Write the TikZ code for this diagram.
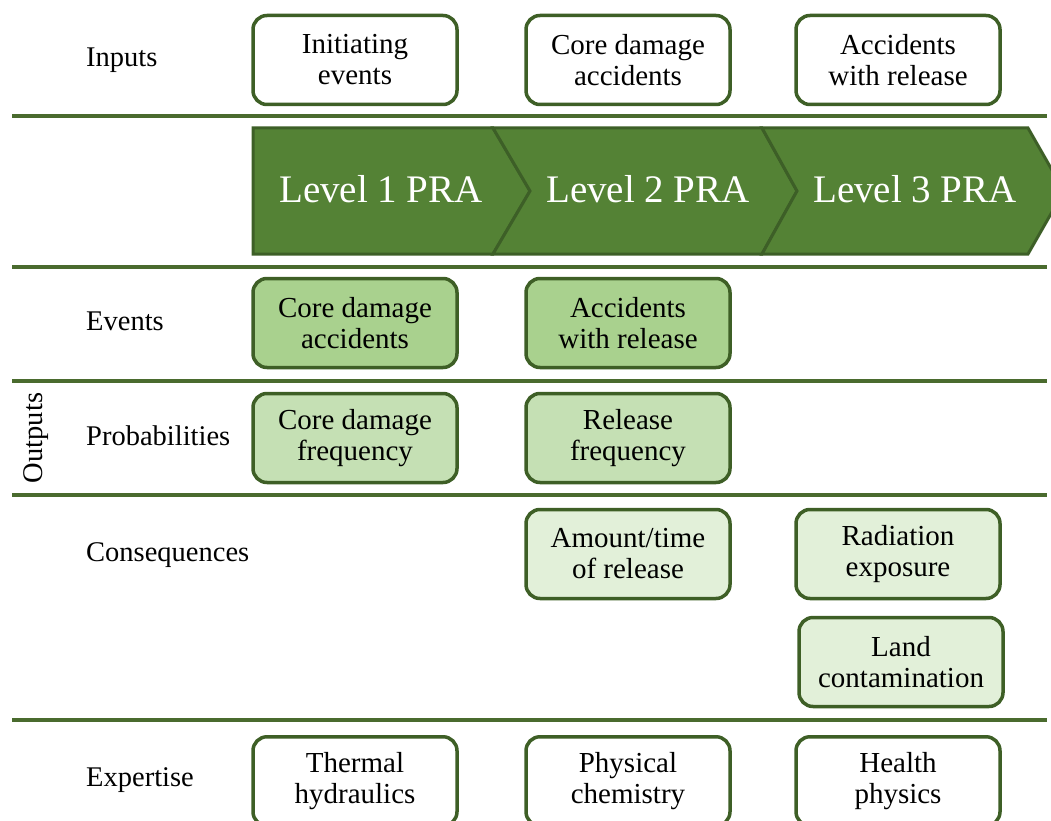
\documentclass[tikz,border=0pt]{standalone}
\usepackage{fontspec}
\setmainfont{Liberation Serif}
\definecolor{linegreen}{HTML}{4A6B2E}
\definecolor{boxborder}{HTML}{3E5F26}
\definecolor{chevfill}{HTML}{548235}
\definecolor{chevborder}{HTML}{3D5F27}
\definecolor{fillev}{HTML}{A9D18E}
\definecolor{fillpr}{HTML}{C5E0B4}
\definecolor{fillco}{HTML}{E2F0D9}
\tikzset{
  boxbase/.style={draw=boxborder, line width=3.5pt, rounded corners=14pt,
    minimum width=204pt, minimum height=89pt, align=center, inner sep=0pt,
    font=\fontsize{29}{31}\selectfont},
  plainbox/.style={boxbase, fill=white},
  evbox/.style={boxbase, fill=fillev},
  prbox/.style={boxbase, fill=fillpr},
  cobox/.style={boxbase, fill=fillco},
  rowlabel/.style={anchor=base west, inner sep=0pt, font=\fontsize{28.5}{31}\selectfont},
  sepline/.style={draw=linegreen, line width=3.5pt},
  chev/.style={fill=chevfill, draw=chevborder, line width=3pt, line join=miter},
  chevtext/.style={text=white, font=\fontsize{39}{44}\selectfont, inner sep=0pt}
}
\begin{document}
\begin{tikzpicture}[x=1pt,y=-1pt]
\useasboundingbox (0,0) rectangle (1051,821);
% separator lines
\draw[sepline] (12,116) -- (1047,116);
\draw[sepline] (12,267) -- (1047,267);
\draw[sepline] (12,381) -- (1047,381);
\draw[sepline] (12,495) -- (1047,495);
\draw[sepline] (12,720) -- (1047,720);
% chevrons
\draw[chev] (253,128) -- (493,128) -- (530,191) -- (493,254) -- (253,254) -- cycle;
\draw[chev] (493,128) -- (762,128) -- (797,191) -- (762,254) -- (493,254) -- (530,191) -- cycle;
\draw[chev] (762,128) -- (1028,128) -- (1064,191) -- (1028,254) -- (762,254) -- (797,191) -- cycle;
\node[chevtext] (l1) at (381,189) {Level 1 PRA};
\node[chevtext] (l2) at (648,189) {Level 2 PRA};
\node[chevtext] (l3) at (915,189) {Level 3 PRA};
% row labels
\node[rowlabel] (inputs) at (86,67) {Inputs};
\node[rowlabel] (events) at (86,330) {Events};
\node[rowlabel] (probs) at (86,445) {Probabilities};
\node[rowlabel] (conseq) at (86,561) {Consequences};
\node[rowlabel] (expert) at (86,786) {Expertise};
\node[font=\fontsize{28.5}{31}\selectfont, rotate=90, inner sep=0pt] (outputs) at (36,438) {Outputs};
% input boxes
\node[plainbox] (in1) at (355,60) {Initiating\\events};
\node[plainbox] (in2) at (628,60) {Core damage\\accidents};
\node[plainbox] (in3) at (898,60) {Accidents\\with release};
% events
\node[evbox] (ev1) at (355,323) {Core damage\\accidents};
\node[evbox] (ev2) at (628,323) {Accidents\\with release};
% probabilities
\node[prbox] (pr1) at (355,438) {Core damage\\frequency};
\node[prbox] (pr2) at (628,438) {Release\\frequency};
% consequences
\node[cobox] (co2) at (628,554) {Amount/time\\of release};
\node[cobox] (co3) at (898,554) {Radiation\\exposure};
\node[cobox] (co4) at (901,662) {Land\\contamination};
% expertise
\node[plainbox, anchor=north] (ex1) at (355,735) {Thermal\\hydraulics};
\node[plainbox, anchor=north] (ex2) at (628,735) {Physical\\chemistry};
\node[plainbox, anchor=north] (ex3) at (898,735) {Health\\physics};
\end{tikzpicture}
\end{document}
